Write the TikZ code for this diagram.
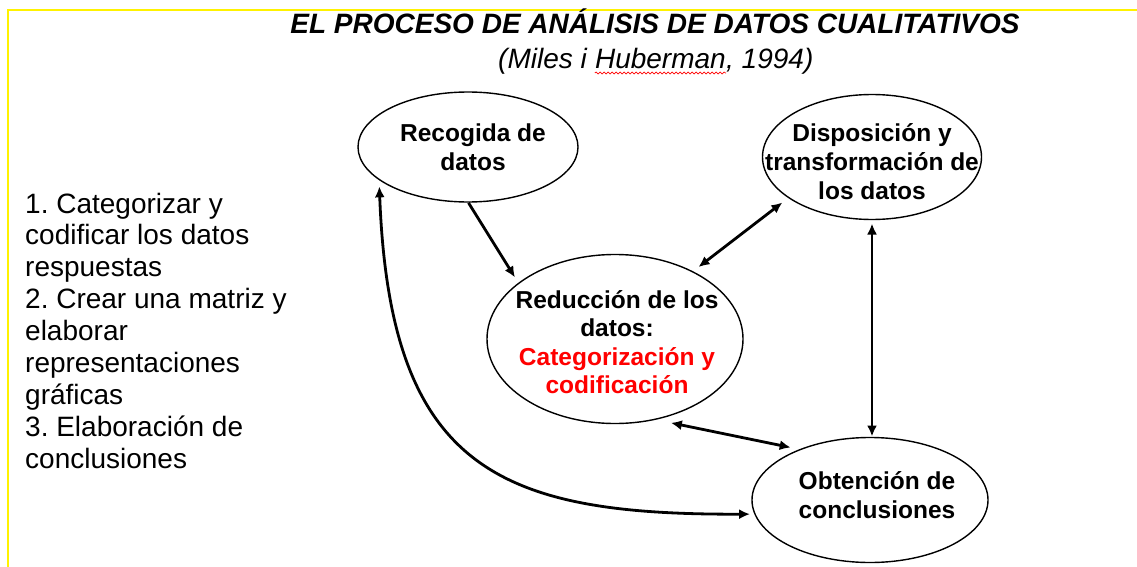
\documentclass[tikz,border=0pt]{standalone}
\usepackage{fontspec}
\setmainfont{Liberation Sans}
\usetikzlibrary{shapes.geometric,arrows.meta,decorations.pathmorphing}
\frenchspacing
\begin{document}
\begin{tikzpicture}[x=1pt,y=-1pt,
  bubble/.style={ellipse,draw=black,line width=1.4pt,inner sep=0pt,outer sep=0pt},
  btext/.style={align=center,inner sep=0pt,font=\fontsize{24.5}{29}\selectfont\bfseries},
  conn/.style={line width=2.8pt,{Latex[length=11pt,width=10pt]}-{Latex[length=11pt,width=10pt]}},
  one/.style={line width=2.8pt,-{Latex[length=11pt,width=10pt]}},
  lst/.style={anchor=base west,inner sep=0pt,font=\fontsize{28}{31}\selectfont},
  ttl/.style={inner sep=0pt,font=\fontsize{28}{32}\selectfont\bfseries\itshape},
  sub/.style={anchor=base west,inner sep=0pt,font=\fontsize{28}{32}\selectfont\itshape}
  ]
\fill[white] (0,0) rectangle (1137,567);
\useasboundingbox (0,0) rectangle (1137,567);
\draw[yellow,line width=1.5pt] (8,567) -- (8,10) -- (1137,10);

% title
\node[ttl,anchor=base] (title) at (655,34) {EL PROCESO DE ANÁLISIS DE DATOS CUALITATIVOS};
\node[sub] (s1) at (498,69) {(Miles i};
\node[sub] (hub) at ([xshift=7.8pt]s1.base east) {Huberman};
\node[sub] (s2) at (hub.base east) {, 1994)};
\draw[red,line width=0.7pt,decorate,decoration={snake,amplitude=1pt,segment length=4pt}]
  ([yshift=-4pt]hub.base west) -- ([yshift=-4pt]hub.base east);

% list
\foreach \t [count=\i] in {1. Categorizar y,codificar los datos,respuestas,2. Crear una matriz y,elaborar,representaciones,gráficas,3. Elaboración de,conclusiones}
  \node[lst] (l\i) at (25,{213+(\i-1)*31.9}) {\t};

% ellipses
\node[bubble,minimum width=220pt,minimum height=110pt] (rec) at (468,147) {};
\node[btext] (rect) at (473,147) {Recogida de\\datos};
\node[bubble,minimum width=219pt,minimum height=125pt] (disp) at (872,157) {};
\node[btext] (dispt) at (872,162) {Disposición y\\transformación de\\los datos};
\node[bubble,minimum width=256pt,minimum height=169pt] (red) at (615,339) {};
\node[btext,font=\fontsize{24.5}{28.5}\selectfont\bfseries] (redt) at (617,342)
  {Reducción de los\\datos:\\\textcolor{red}{Categorización y}\\\textcolor{red}{codificación}};
\node[bubble,minimum width=236pt,minimum height=125pt] (obt) at (870,500) {};
\node[btext] (obtt) at (877,495) {Obtención de\\conclusiones};

% connectors
\draw[one,shorten <=1pt,shorten >=7pt] (rec.south) -- (red.150);
\draw[conn,shorten <=7.6pt,shorten >=8pt] (red.41) -- (disp.206);
\draw[conn,shorten <=4pt,shorten >=1pt] (disp.south) -- ([xshift=2pt]obt.north);
\draw[conn,shorten <=17pt,shorten >=10pt] (red.296) -- (obt.144);
\draw[conn,shorten <=7pt,shorten >=5pt] (rec.200) .. controls (390,470) and (500,515) .. (obt.187);
\end{tikzpicture}
\end{document}
